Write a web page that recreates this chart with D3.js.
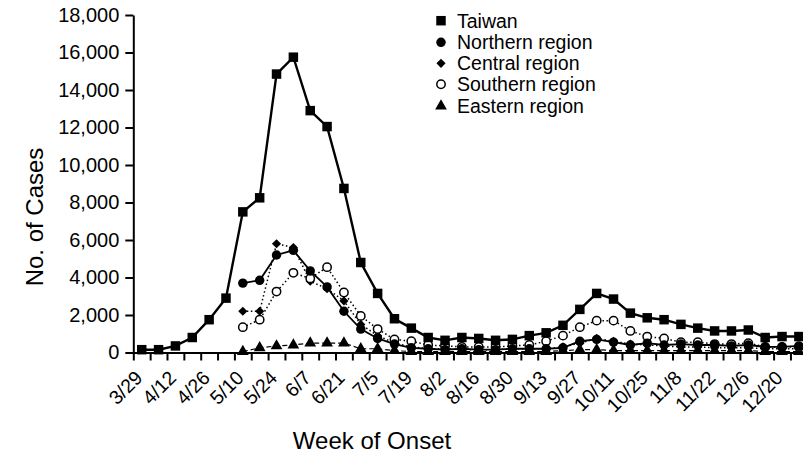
<!DOCTYPE html>
<html>
<head>
<meta charset="utf-8">
<script src="https://cdn.jsdelivr.net/npm/d3@7"></script>
<style>
  body { margin: 0; background: #fff; }
  svg { display: block; font-family: "Liberation Sans", Arial, Helvetica, sans-serif; }
</style>
</head>
<body>
<script>
// Weekly categories (week of onset)
const weeks = ['3/29','4/5','4/12','4/19','4/26','5/3','5/10','5/17','5/24','5/31',
               '6/7','6/14','6/21','6/28','7/5','7/12','7/19','7/26','8/2','8/9',
               '8/16','8/23','8/30','9/6','9/13','9/20','9/27','10/4','10/11','10/18',
               '10/25','11/1','11/8','11/15','11/22','11/29','12/6','12/13','12/20','12/27'];
const tickLabels = ['3/29','4/12','4/26','5/10','5/24','6/7','6/21','7/5','7/19','8/2',
                    '8/16','8/30','9/13','9/27','10/11','10/25','11/8','11/22','12/6','12/20'];
const yTicks = [0, 2000, 4000, 6000, 8000, 10000, 12000, 14000, 16000, 18000];

// Series values, one per week (null = not reported)
const taiwan = [150,150,350,800,1750,2900,7500,8250,14850,15750,
                12900,12050,8750,4800,3150,1800,1300,800,650,800,
                750,650,700,900,1050,1450,2300,3150,2850,2100,
                1850,1750,1500,1300,1150,1150,1200,800,850,850];
const northern = [null,null,null,null,null,null,3700,3850,5200,5450,
                  4350,3500,2200,1250,750,450,250,200,150,200,
                  150,150,200,200,200,250,600,700,550,400,
                  500,400,450,400,400,350,400,300,300,350];
const central = [null,null,null,null,null,null,2200,2200,5800,5600,
                 3800,3400,2750,1500,900,500,300,200,200,150,
                 150,150,200,200,200,300,500,750,600,450,
                 400,350,300,300,250,250,250,200,200,200];
const southern = [null,null,null,null,null,null,1350,1750,3250,4250,
                  3950,4550,3200,1950,1250,700,600,400,350,300,
                  300,300,350,400,600,900,1350,1700,1700,1150,
                  850,750,550,550,450,450,500,300,300,300];
const eastern = [null,null,null,null,null,null,50,250,350,400,
                 500,500,500,200,200,100,50,50,50,50,
                 50,50,50,50,50,100,150,150,100,100,
                 100,100,100,100,100,100,100,50,50,50];

const seriesNames = ['Taiwan','Northern region','Central region','Southern region','Eastern region'];

const width = 803, height = 454;
const x0 = 133.3, step = 16.85;

const svg = d3.select('body').append('svg')
    .attr('width', width)
    .attr('height', height);

const x = d3.scaleBand()
    .domain(weeks)
    .range([x0, x0 + step * weeks.length])
    .padding(0);
const xEdge = d3.scaleLinear()
    .domain([0, weeks.length])
    .range([x0, x0 + step * weeks.length]);
const y = d3.scaleLinear()
    .domain([0, 18000])
    .range([352.5, 15]);

const cx = d => x(d) + x.bandwidth() / 2;

// y axis
const yAxis = svg.append('g')
    .attr('transform', `translate(${x0},0)`)
    .call(d3.axisLeft(y).tickValues(yTicks).tickFormat(d3.format(',')).tickSize(8).tickPadding(6).tickSizeOuter(0));
yAxis.select('.domain').attr('stroke-width', 2);
yAxis.selectAll('.tick line').attr('stroke-width', 2);
yAxis.selectAll('.tick text').attr('font-size', 20).attr('fill', '#000');

// x axis: ticks at week boundaries
const xTickAxis = svg.append('g')
    .attr('transform', `translate(0,${y(0)})`)
    .call(d3.axisBottom(xEdge).tickValues(d3.range(0, weeks.length + 1)).tickFormat('').tickSize(8).tickSizeOuter(0));
xTickAxis.select('.domain').attr('stroke-width', 2);
xTickAxis.selectAll('.tick line').attr('stroke-width', 2);

// x labels at week centres
svg.append('g')
    .selectAll('text')
    .data(tickLabels)
    .join('text')
      .attr('transform', d => `translate(${cx(d) + 2},379) rotate(-45)`)
      .attr('text-anchor', 'end')
      .attr('font-size', 19.5)
      .text(d => d);

// axis titles
svg.append('text')
    .attr('transform', 'translate(43,217) rotate(-90)')
    .attr('text-anchor', 'middle')
    .attr('font-size', 24)
    .text('No. of Cases');
svg.append('text')
    .attr('x', 372)
    .attr('y', 449)
    .attr('text-anchor', 'middle')
    .attr('font-size', 24)
    .text('Week of Onset');

const line = d3.line()
    .defined(d => d.v != null)
    .x(d => cx(d.w))
    .y(d => y(d.v));

const series = [
  { name: 'Eastern region',  values: eastern,  dash: '5,3', width: 1.2, sym: d3.symbolTriangle, size: 60, fill: '#000', rot: 0 },
  { name: 'Central region',  values: central,  dash: '1.5,2.5', width: 1.5, sym: d3.symbolSquare, size: 42, fill: '#000', rot: 45 },
  { name: 'Southern region', values: southern, dash: '1.5,2.5', width: 1.5, sym: d3.symbolCircle, size: 55, fill: '#fff', rot: 0 },
  { name: 'Northern region', values: northern, dash: null, width: 1.8, sym: d3.symbolCircle, size: 70, fill: '#000', rot: 0 },
  { name: 'Taiwan',          values: taiwan,   dash: null, width: 2.4, sym: d3.symbolSquare, size: 90, fill: '#000', rot: 0 }
];

series.forEach(s => {
  const pts = weeks.map((w, i) => ({ w, v: s.values[i] }));
  svg.append('path')
      .datum(pts)
      .attr('fill', 'none')
      .attr('stroke', '#000')
      .attr('stroke-width', s.width)
      .attr('stroke-dasharray', s.dash)
      .attr('d', line);
  svg.append('g')
    .selectAll('path')
    .data(pts.filter(d => d.v != null))
    .join('path')
      .attr('transform', d => `translate(${cx(d.w)},${y(d.v)}) rotate(${s.rot})`)
      .attr('d', d3.symbol().type(s.sym).size(s.size))
      .attr('fill', s.fill)
      .attr('stroke', '#000')
      .attr('stroke-width', s.fill === '#fff' ? 1.5 : 0);
});

// legend
const legendY = [20.7, 42.3, 63.3, 84.3, 106];
const legend = svg.append('g');
seriesNames.forEach((name, i) => {
  const s = series.find(t => t.name === name);
  legend.append('path')
      .attr('transform', `translate(441,${legendY[i]}) rotate(${s.rot})`)
      .attr('d', d3.symbol().type(s.sym).size(s.size))
      .attr('fill', s.fill)
      .attr('stroke', '#000')
      .attr('stroke-width', s.fill === '#fff' ? 1.5 : 0);
  legend.append('text')
      .attr('x', 457)
      .attr('y', legendY[i])
      .attr('dy', '0.36em')
      .attr('font-size', 19.5)
      .text(name);
});
</script>
</body>
</html>
